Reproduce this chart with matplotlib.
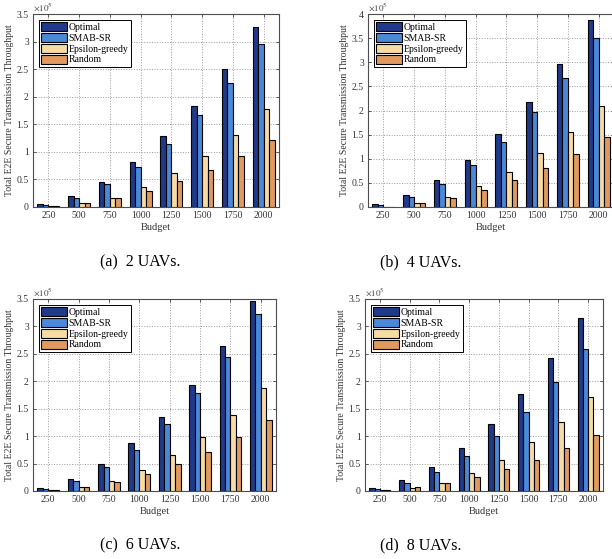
import matplotlib
matplotlib.use("Agg")
import matplotlib.pyplot as plt
import numpy as np

plt.rcParams['font.family'] = ['Liberation Serif', 'DejaVu Serif']
plt.rcParams['mathtext.fontset'] = 'stix'

budgets = ['250', '500', '750', '1000', '1250', '1500', '1750', '2000']
methods = ['Optimal', 'SMAB-SR', 'Epsilon-greedy', 'Random']
colors = ['#203a8a', '#4a88d8', '#f6dca4', '#e09a60']

# throughput values in units of 1e5
optimal_2 = [0.05, 0.20, 0.46, 0.82, 1.28, 1.84, 2.50, 3.27]
smab_2 = [0.04, 0.17, 0.41, 0.73, 1.14, 1.66, 2.25, 2.95]
eps_2 = [0.01, 0.07, 0.17, 0.37, 0.62, 0.93, 1.31, 1.77]
rand_2 = [0.01, 0.07, 0.16, 0.29, 0.47, 0.68, 0.93, 1.22]

optimal_4 = [0.06, 0.24, 0.55, 0.97, 1.52, 2.18, 2.96, 3.88]
smab_4 = [0.05, 0.20, 0.48, 0.87, 1.35, 1.97, 2.67, 3.50]
eps_4 = [0.01, 0.08, 0.20, 0.44, 0.73, 1.11, 1.56, 2.10]
rand_4 = [0.01, 0.08, 0.19, 0.35, 0.56, 0.81, 1.10, 1.45]

optimal_6 = [0.05, 0.22, 0.49, 0.87, 1.35, 1.94, 2.64, 3.47]
smab_6 = [0.04, 0.19, 0.43, 0.75, 1.22, 1.78, 2.45, 3.23]
eps_6 = [0.01, 0.07, 0.19, 0.39, 0.65, 0.99, 1.39, 1.87]
rand_6 = [0.01, 0.07, 0.17, 0.31, 0.49, 0.72, 0.98, 1.29]

optimal_8 = [0.05, 0.20, 0.44, 0.79, 1.23, 1.77, 2.42, 3.15]
smab_8 = [0.03, 0.15, 0.35, 0.64, 1.01, 1.44, 1.98, 2.58]
eps_8 = [0.01, 0.05, 0.15, 0.33, 0.57, 0.89, 1.25, 1.71]
rand_8 = [0.01, 0.07, 0.14, 0.25, 0.41, 0.57, 0.78, 1.02]

panels = [
    ([optimal_2, smab_2, eps_2, rand_2], 3.5, '(a)  2 UAVs.', [33, 14, 246, 193]),
    ([optimal_4, smab_4, eps_4, rand_4], 4.0, '(b)  4 UAVs.', [368, 14, 246, 193]),
    ([optimal_6, smab_6, eps_6, rand_6], 3.5, '(c)  6 UAVs.', [33, 299, 243, 192]),
    ([optimal_8, smab_8, eps_8, rand_8], 3.5, '(d)  8 UAVs.', [365, 299, 238, 192]),
]
captions_xy = [(140, 262), (421, 262), (140, 545), (421, 545)]

W, H = 612, 559
fig = plt.figure(figsize=(W / 100, H / 100), dpi=100)

x = np.arange(len(budgets))
bw = 0.178
for (series, ymax, cap, (l, t, w, h)), (cx, cy) in zip(panels, captions_xy):
    ax = fig.add_axes([l / W, 1 - (t + h) / H, w / W, h / H])
    for i, (vals, c, name) in enumerate(zip(series, colors, methods)):
        ax.bar(x + (i - 1.5) * bw, vals, bw, color=c, edgecolor='black',
               linewidth=0.8, label=name, zorder=3)
    ax.set_xlim(-0.5, 7.5)
    ax.set_ylim(0, ymax)
    ax.set_yticks(np.arange(0, ymax + 0.01, 0.5))
    ax.set_yticklabels(['%g' % v for v in np.arange(0, ymax + 0.01, 0.5)])
    ax.set_xticks(x)
    ax.set_xticklabels(budgets)
    ax.tick_params(direction='in', top=True, right=True, labelsize=7,
                   length=2.5, width=0.6, colors='0.25', labelcolor='0.2',
                   pad=3)
    ax.grid(True, linestyle=':', color='0.6', linewidth=0.7, zorder=0)
    for s in ax.spines.values():
        s.set_color('0.3')
        s.set_linewidth(0.8)
    ax.set_xlabel('Budget', fontsize=7.5, color='0.2', labelpad=2)
    ax.set_ylabel('Total E2E Secure Transmission Throughput', fontsize=7,
                  color='0.2', labelpad=2)
    ax.text(0.0, 1.005, r'$\times10^5$', transform=ax.transAxes, fontsize=6.5,
            color='0.25', ha='left', va='bottom')
    leg = ax.legend(loc='upper left', fontsize=7, fancybox=False,
                    framealpha=1, edgecolor='black', handlelength=2.6,
                    handleheight=1.0, handletextpad=0.2, borderpad=0.25,
                    labelspacing=0.12, borderaxespad=0.6)
    leg.get_frame().set_linewidth(0.7)
    fig.text(cx / W, 1 - cy / H, cap, fontsize=11.5, ha='center', va='center')

fig.savefig('out.png', dpi=100)
